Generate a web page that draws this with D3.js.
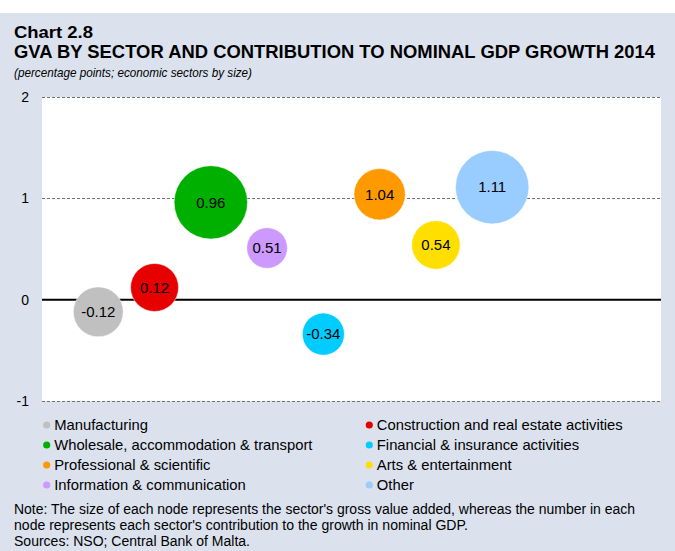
<!DOCTYPE html>
<html>
<head>
<meta charset="utf-8">
<script src="https://cdn.jsdelivr.net/npm/d3@7"></script>
<style>
  body { margin: 0; background: #fff; }
  svg { display: block; font-family: "Liberation Sans", Arial, sans-serif; }
</style>
</head>
<body>
<div id="chart"></div>
<script>
// sectors, in the order they sit along the x axis
const sectors = ['Manufacturing', 'Construction and real estate activities', 'Wholesale, accommodation & transport',
  'Information & communication', 'Financial & insurance activities', 'Professional & scientific',
  'Arts & entertainment', 'Other'];
const contribution = [-0.12, 0.12, 0.96, 0.51, -0.34, 1.04, 0.54, 1.11];   // pp to nominal GDP growth
const gvaShare = [10.4, 9.6, 22.5, 6.9, 7.4, 11.0, 9.8, 22.5];             // bubble size (share of GVA, %)
const colors = ['#c0c0c0', '#e60000', '#00b000', '#cc99ff', '#00ccff', '#ff9900', '#ffdf00', '#99ccff'];
const legendOrder = [0, 1, 2, 4, 5, 6, 3, 7];
const yTicks = [-1, 0, 1, 2];

const width = 675, height = 551;
const plot = { left: 42, right: 661, top: 97, bottom: 401 };
const fmt = v => d3.format('.2f')(v).replace('\u2212', '-');

const svg = d3.select('#chart').append('svg')
    .attr('width', width)
    .attr('height', height);

// panel
svg.append('rect')
    .attr('x', 0).attr('y', 13)
    .attr('width', width).attr('height', height - 13)
    .attr('fill', '#dbe2ee');

svg.append('rect')
    .attr('x', plot.left).attr('y', plot.top)
    .attr('width', plot.right - plot.left).attr('height', plot.bottom - plot.top)
    .attr('fill', '#fff');

// titles
svg.append('text')
    .attr('x', 14).attr('y', 38)
    .attr('font-size', 17).attr('font-weight', 'bold')
    .attr('textLength', 79).attr('lengthAdjust', 'spacingAndGlyphs')
    .text('Chart 2.8');
svg.append('text')
    .attr('x', 14).attr('y', 58)
    .attr('font-size', 17.5).attr('font-weight', 'bold')
    .attr('textLength', 641).attr('lengthAdjust', 'spacingAndGlyphs')
    .text('GVA BY SECTOR AND CONTRIBUTION TO NOMINAL GDP GROWTH 2014');
svg.append('text')
    .attr('x', 14).attr('y', 77)
    .attr('font-size', 13).attr('font-style', 'italic')
    .attr('textLength', 238).attr('lengthAdjust', 'spacingAndGlyphs')
    .text('(percentage points; economic sectors by size)');

const x = d3.scaleLinear().domain([0, 11]).range([plot.left, plot.right]);
const y = d3.scaleLinear().domain([-1, 2]).range([plot.bottom, plot.top]);
const r = d3.scaleSqrt().domain([0, 22.5]).range([0, 36.7]);

// grid
svg.append('g')
  .selectAll('line')
  .data(yTicks.filter(d => d !== 0))
  .join('line')
    .attr('x1', plot.left).attr('x2', plot.right)
    .attr('y1', d => Math.round(y(d)) + 0.5).attr('y2', d => Math.round(y(d)) + 0.5)
    .attr('stroke', '#707070')
    .attr('stroke-dasharray', '3,2');

svg.append('line')
    .attr('x1', plot.left).attr('x2', plot.right)
    .attr('y1', y(0)).attr('y2', y(0))
    .attr('stroke', '#000')
    .attr('stroke-width', 2);

const yAxis = svg.append('g')
    .attr('transform', `translate(${plot.left},0)`)
    .call(d3.axisLeft(y).tickValues(yTicks).tickSize(0).tickPadding(13).tickFormat(d => String(d)));
yAxis.select('.domain').remove();
yAxis.selectAll('text')
    .attr('font-family', '"Liberation Sans", Arial, sans-serif')
    .attr('font-size', 14)
    .attr('fill', '#000');

// bubbles
const node = svg.append('g')
  .selectAll('g')
  .data(sectors.map((s, i) => ({ name: s, value: contribution[i], size: gvaShare[i], color: colors[i], i })))
  .join('g')
    .attr('transform', d => `translate(${x(d.i + 1)},${y(d.value)})`);

node.append('circle')
    .attr('r', d => r(d.size))
    .attr('fill', d => d.color)
    .attr('stroke', '#fff')
    .attr('stroke-opacity', 0.5);

node.append('text')
    .attr('text-anchor', 'middle')
    .attr('dy', '0.35em')
    .attr('font-size', 15)
    .text(d => fmt(d.value));

// legend
const legend = svg.append('g')
  .selectAll('g')
  .data(legendOrder)
  .join('g')
    .attr('transform', (d, k) => `translate(${k % 2 ? 369.3 : 46.7},${425 + Math.floor(k / 2) * 20})`);

legend.append('circle')
    .attr('r', 3.6)
    .attr('fill', d => colors[d]);

legend.append('text')
    .attr('x', 7.5)
    .attr('dy', '0.35em')
    .attr('font-size', 14.8)
    .text(d => sectors[d]);

// notes
const notes = [
  'Note: The size of each node represents the sector\'s gross value added, whereas the number in each',
  'node represents each sector\'s contribution to the growth in nominal GDP.',
  'Sources: NSO; Central Bank of Malta.'
];
const noteWidths = [621, 454, 236];
svg.append('g')
  .selectAll('text')
  .data(notes)
  .join('text')
    .attr('x', 14)
    .attr('y', (d, i) => [514, 530, 545.5][i])
    .attr('font-size', 14)
    .attr('textLength', (d, i) => noteWidths[i])
    .attr('lengthAdjust', 'spacingAndGlyphs')
    .text(d => d);
</script>
</body>
</html>
